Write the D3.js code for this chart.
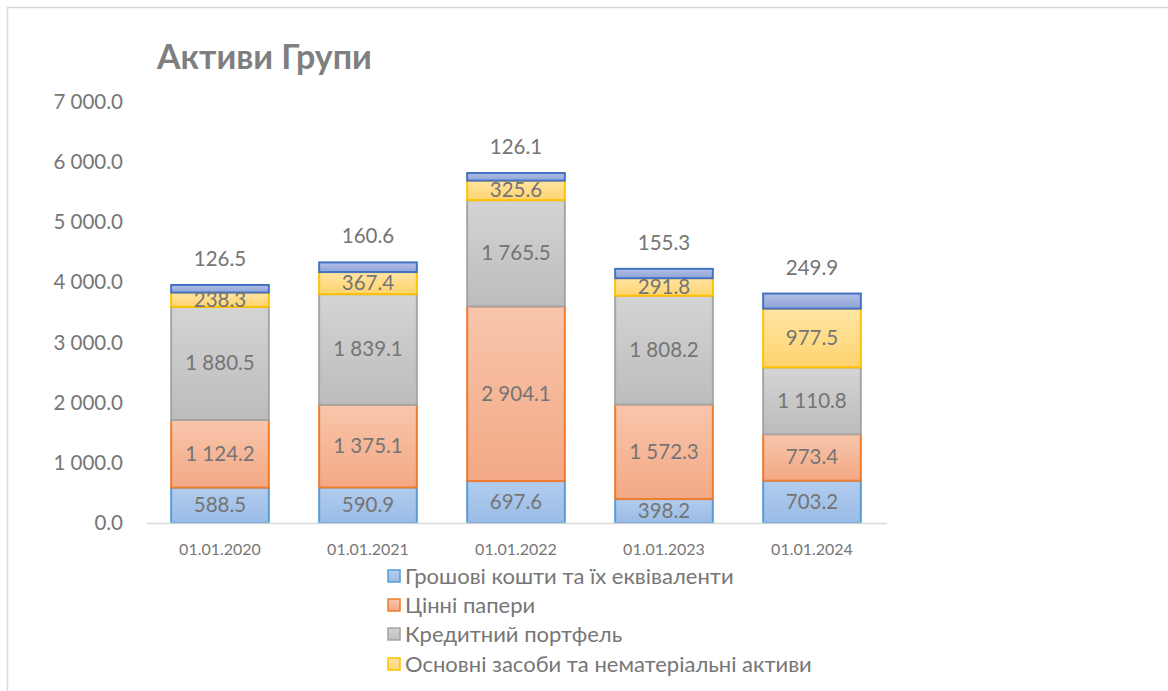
<!DOCTYPE html>
<html>
<head>
<meta charset="utf-8">
<script src="https://cdn.jsdelivr.net/npm/d3@7"></script>
<style>
  html, body { margin: 0; padding: 0; background: #fff; }
  svg { display: block; font-family: Lato, "Open Sans", sans-serif; }
</style>
</head>
<body>
<svg id="chart" width="1168" height="691"></svg>
<script>
const categories = ["01.01.2020", "01.01.2021", "01.01.2022", "01.01.2023", "01.01.2024"];
const seriesNames = [
  "Грошові кошти та їх еквіваленти",
  "Цінні папери",
  "Кредитний портфель",
  "Основні засоби та нематеріальні активи",
  "Інші активи"
];
const cash       = [588.5, 590.9, 697.6, 398.2, 703.2];
const securities = [1124.2, 1375.1, 2904.1, 1572.3, 773.4];
const loans      = [1880.5, 1839.1, 1765.5, 1808.2, 1110.8];
const fixed      = [238.3, 367.4, 325.6, 291.8, 977.5];
const other      = [126.5, 160.6, 126.1, 155.3, 249.9];
const yTicks = [0, 1000, 2000, 3000, 4000, 5000, 6000, 7000];
const title = "Активи Групи";

const seriesValues = [cash, securities, loans, fixed, other];
const styles = [
  { top: "#b2cdee", bottom: "#99bbe6", stroke: "#5b9bd5" },
  { top: "#f8c6ac", bottom: "#f3a884", stroke: "#ed7d31" },
  { top: "#d4d4d4", bottom: "#bcbcbc", stroke: "#a5a5a5" },
  { top: "#ffe4a3", bottom: "#ffd46e", stroke: "#ffc000" },
  { top: "#b3c0e5", bottom: "#8ea3d7", stroke: "#4472c4" }
];

const svg = d3.select("#chart");

// chart frame
svg.append("rect").attr("x", 7.5).attr("y", 7.5).attr("width", 1200).attr("height", 700)
  .attr("fill", "#fff").attr("stroke", "#d9d9d9").attr("stroke-width", 1.5);

const defs = svg.append("defs");
styles.forEach((s, i) => {
  const g = defs.append("linearGradient").attr("id", "grad" + i)
    .attr("x1", 0).attr("y1", 0).attr("x2", 0).attr("y2", 1);
  g.append("stop").attr("offset", "0%").attr("stop-color", s.top);
  g.append("stop").attr("offset", "100%").attr("stop-color", s.bottom);
});

const x = d3.scaleBand().domain(categories).range([146, 886]).paddingInner(0.34).paddingOuter(0.17);
const y = d3.scaleLinear().domain([0, 7000]).range([523, 102]);

// title
svg.append("text").attr("x", 157).attr("y", 69).text(title)
  .attr("font-size", 34).attr("font-weight", 700).attr("fill", "#7f7f7f");

const fmtLbl = v => d3.format(",.1f")(v).replace(/,/g, " ");

const yAxis = d3.axisLeft(y).tickValues(yTicks).tickSize(0).tickPadding(0).tickFormat(fmtLbl);
const yg = svg.append("g").attr("transform", "translate(123,0)").call(yAxis);
yg.select(".domain").remove();
yg.selectAll("text").attr("font-size", 20.5).attr("fill", "#767676").attr("font-family", "Lato, sans-serif");

// stack
const rows = categories.map((c, i) => {
  const r = { cat: c };
  seriesValues.forEach((arr, k) => r["s" + k] = arr[i]);
  return r;
});
const keys = seriesValues.map((_, k) => "s" + k);
const stacked = d3.stack().keys(keys)(rows);

const bw = x.bandwidth();
stacked.forEach((layer, k) => {
  const g = svg.append("g");
  g.selectAll("rect").data(layer).join("rect")
    .attr("x", d => x(d.data.cat))
    .attr("y", d => y(d[1]))
    .attr("width", bw)
    .attr("height", d => y(d[0]) - y(d[1]))
    .attr("fill", "url(#grad" + k + ")")
    .attr("stroke", styles[k].stroke)
    .attr("stroke-width", 2);
});

// x axis baseline
const xAxis = d3.axisBottom(x).tickSize(0).tickPadding(0);
const xg = svg.append("g").attr("transform", "translate(0," + y(0) + ")").call(xAxis);
xg.select(".domain").attr("stroke", "#d9d9d9").attr("stroke-width", 1.5);
xg.selectAll("text").attr("font-size", 16).attr("fill", "#767676").attr("dy", 0).attr("y", 32)
  .attr("font-family", "Lato, sans-serif");

// labels
stacked.forEach((layer, k) => {
  const g = svg.append("g");
  g.selectAll("text").data(layer).join("text")
    .attr("x", d => x(d.data.cat) + bw / 2)
    .attr("y", d => k === 4 ? y(d[1]) - 19 : (y(d[0]) + y(d[1])) / 2 + 7)
    .attr("text-anchor", "middle")
    .attr("font-size", 20.5)
    .attr("fill", "#757575")
    .text(d => fmtLbl(d[1] - d[0]));
});

// legend (first four entries visible in the frame)
const legendY = [576, 605, 634, 664];
const leg = svg.append("g");
legendY.forEach((ly, k) => {
  leg.append("rect").attr("x", 388).attr("y", ly - 6).attr("width", 12).attr("height", 12)
    .attr("fill", "url(#grad" + k + ")").attr("stroke", styles[k].stroke).attr("stroke-width", 1.5);
  leg.append("text").attr("x", 405).attr("y", ly + 8).text(seriesNames[k])
    .attr("font-size", 22).attr("fill", "#767676");
});
</script>
</body>
</html>
